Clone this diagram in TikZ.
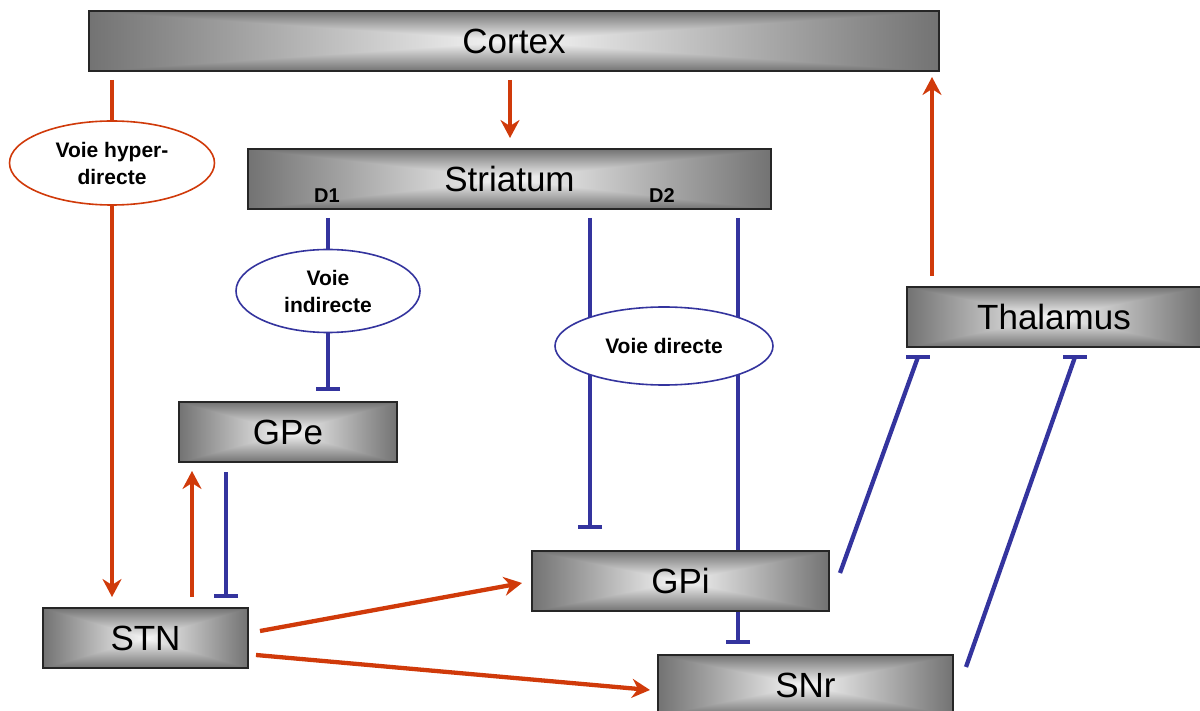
\documentclass[tikz,border=0pt]{standalone}
\usepackage{fontspec}
\setmainfont{Liberation Sans}
\usetikzlibrary{arrows.meta,shapes.geometric}
\pgfdeclarelayer{background}
\pgfsetlayers{background,main}
\definecolor{redc}{RGB}{208,58,10}
\definecolor{bluec}{RGB}{52,52,158}
\pgfdeclarefunctionalshading{boxgrad}{\pgfpoint{-50bp}{-50bp}}{\pgfpoint{50bp}{50bp}}{}{
  abs exch abs 2 copy lt {exch} if pop 25 div dup 1 gt {pop 1} if 0.52 mul 0.97 exch sub dup dup
}
\tikzset{
  box/.style={draw=black!85, line width=1.3pt, shade, shading=boxgrad, minimum height=60pt, inner sep=0pt,
    font=\fontsize{35}{40}\selectfont},
  lab/.style={ellipse, fill=white, line width=1.6pt, inner sep=0pt, align=center,
    font=\bfseries\fontsize{21}{27}\selectfont},
  small/.style={font=\bfseries\fontsize{20}{24}\selectfont, inner sep=0pt},
  exc/.style={draw=redc, line width=4.3pt, -{Stealth[length=18pt,width=19pt,inset=6pt]}},
  inh/.style={draw=bluec, line width=4.3pt, -{Bar[width=24pt]}},
  inhline/.style={draw=bluec, line width=4.3pt},
  tbar/.style={draw=bluec, line width=4.3pt},
}
\begin{document}
\begin{tikzpicture}[x=1pt,y=-1pt]
\useasboundingbox (0,0) rectangle (1200,711);
% boxes
\node[box, minimum width=850pt] (cortex) at (514,41) {Cortex};
\node[box, minimum width=523pt] (striatum) at (509.5,179) {Striatum};
\node[small] (d1) at (327,196) {D1};
\node[small] (d2) at (662,196) {D2};
\node[box, minimum width=294pt] (thalamus) at (1054,317) {Thalamus};
\node[box, minimum width=218pt] (gpe) at (288,432) {GPe};
\node[box, minimum width=205pt] (stn) at (145.5,638) {STN};
\node[box, minimum width=297pt] (gpi) at (680.5,581) {GPi};
\node[box, minimum width=295pt] (snr) at (805.5,685) {SNr};
% endpoints
\coordinate (hypS) at (112,80);
\coordinate (hypE) at (112,597);
\coordinate (csS) at (510,80);
\coordinate (csE) at (510,138);
\coordinate (tcS) at (932,276);
\coordinate (tcE) at (932,77);
\coordinate (d1S) at (328,218);
\coordinate (d1E) at (328,391);
\coordinate (dirS) at (590,218);
\coordinate (dirE) at (590,529);
\coordinate (d2S) at (738,218);
\coordinate (d2E) at (738,644);
\coordinate (geS) at (226,472);
\coordinate (geE) at (226,598);
\coordinate (sgS) at (192,597);
\coordinate (sgE) at (192,471);
\coordinate (siS) at (260,631);
\coordinate (siE) at (522,583);
\coordinate (snS) at (256,655);
\coordinate (snE) at (650,690);
\coordinate (itS) at (840,573);
\coordinate (itE) at (918,357);
\coordinate (ntS) at (966,667);
\coordinate (ntE) at (1075,357);
\begin{pgfonlayer}{background}
\draw[exc] (hypS) -- (hypE);
\draw[exc] (csS) -- (csE);
\draw[exc] (tcS) -- (tcE);
\draw[inh] (d1S) -- (d1E);
\draw[inh] (dirS) -- (dirE);
\draw[inh] (d2S) -- (d2E);
\draw[inh] (geS) -- (geE);
\draw[exc] (sgS) -- (sgE);
\draw[exc] (siS) -- (siE);
\draw[exc] (snS) -- (snE);
\draw[inhline] (itS) -- (itE);
\draw[tbar] ([xshift=-12pt]itE) -- ([xshift=12pt]itE);
\draw[inhline] (ntS) -- (ntE);
\draw[tbar] ([xshift=-12pt]ntE) -- ([xshift=12pt]ntE);
\end{pgfonlayer}
% labels
\node[lab, draw=redc, minimum width=205pt, minimum height=84pt] (hyp) at (112,163) {Voie hyper-\\directe};
\node[lab, draw=bluec, minimum width=184pt, minimum height=83pt] (ind) at (328,291) {Voie\\indirecte};
\node[lab, draw=bluec, minimum width=218pt, minimum height=78pt] (dir) at (664,346) {Voie directe};
\end{tikzpicture}
\end{document}
